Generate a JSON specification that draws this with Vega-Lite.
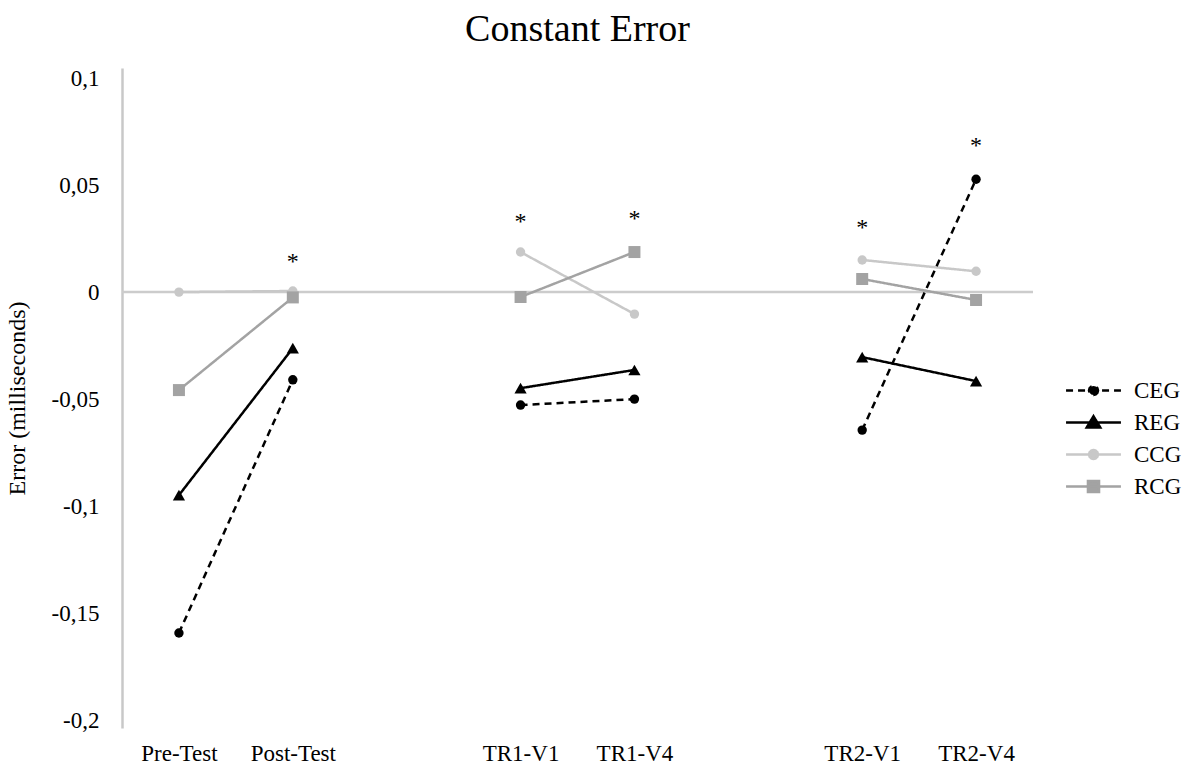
{
  "$schema": "https://vega.github.io/schema/vega-lite/v6.json",
  "width": 911,
  "height": 660,
  "autosize": {"type": "none"},
  "padding": {"left": 122, "top": 68, "right": 157, "bottom": 36},
  "background": "#ffffff",
  "title": {
    "text": "Constant Error",
    "font": "Liberation Serif",
    "fontSize": 38,
    "fontWeight": "normal",
    "color": "#000000",
    "anchor": "middle",
    "offset": 18
  },
  "config": {
    "view": {"stroke": null},
    "font": "Liberation Serif",
    "axis": {"labelFont": "Liberation Serif", "titleFont": "Liberation Serif", "labelColor": "#000000", "titleColor": "#000000"}
  },
  "datasets": {
    "series": [
      {"g": "CCG", "t": "Pre-Test", "v": 0.0, "s": "A"},
      {"g": "CCG", "t": "Post-Test", "v": 0.0005, "s": "A"},
      {"g": "CCG", "t": "TR1-V1", "v": 0.0187, "s": "B"},
      {"g": "CCG", "t": "TR1-V4", "v": -0.0103, "s": "B"},
      {"g": "CCG", "t": "TR2-V1", "v": 0.015, "s": "C"},
      {"g": "CCG", "t": "TR2-V4", "v": 0.0097, "s": "C"},
      {"g": "RCG", "t": "Pre-Test", "v": -0.0458, "s": "A"},
      {"g": "RCG", "t": "Post-Test", "v": -0.0025, "s": "A"},
      {"g": "RCG", "t": "TR1-V1", "v": -0.0023, "s": "B"},
      {"g": "RCG", "t": "TR1-V4", "v": 0.0187, "s": "B"},
      {"g": "RCG", "t": "TR2-V1", "v": 0.0061, "s": "C"},
      {"g": "RCG", "t": "TR2-V4", "v": -0.0037, "s": "C"},
      {"g": "REG", "t": "Pre-Test", "v": -0.0949, "s": "A"},
      {"g": "REG", "t": "Post-Test", "v": -0.0262, "s": "A"},
      {"g": "REG", "t": "TR1-V1", "v": -0.0449, "s": "B"},
      {"g": "REG", "t": "TR1-V4", "v": -0.0364, "s": "B"},
      {"g": "REG", "t": "TR2-V1", "v": -0.0304, "s": "C"},
      {"g": "REG", "t": "TR2-V4", "v": -0.0416, "s": "C"},
      {"g": "CEG", "t": "Pre-Test", "v": -0.1593, "s": "A"},
      {"g": "CEG", "t": "Post-Test", "v": -0.041, "s": "A"},
      {"g": "CEG", "t": "TR1-V1", "v": -0.0528, "s": "B"},
      {"g": "CEG", "t": "TR1-V4", "v": -0.05, "s": "B"},
      {"g": "CEG", "t": "TR2-V1", "v": -0.0645, "s": "C"},
      {"g": "CEG", "t": "TR2-V4", "v": 0.0527, "s": "C"}
    ],
    "stars": [
      {"t": "Post-Test", "v": 0.0154, "label": "*"},
      {"t": "TR1-V1", "v": 0.0341, "label": "*"},
      {"t": "TR1-V4", "v": 0.0355, "label": "*"},
      {"t": "TR2-V1", "v": 0.0313, "label": "*"},
      {"t": "TR2-V4", "v": 0.0696, "label": "*"}
    ]
  },
  "encoding": {
    "x": {
      "field": "t",
      "type": "nominal",
      "sort": null,
      "scale": {"type": "point", "domain": ["Pre-Test", "Post-Test", " ", "TR1-V1", "TR1-V4", "  ", "TR2-V1", "TR2-V4"], "padding": 0.5},
      "axis": {"title": null, "domain": false, "ticks": false, "grid": false, "labelAngle": 0, "labelFontSize": 23, "labelPadding": 14, "labelBaseline": "top"}
    },
    "y": {
      "field": "v",
      "type": "quantitative",
      "scale": {"domain": [-0.2037, 0.1047], "nice": false, "zero": false},
      "axis": {
        "title": "Error (milliseconds)",
        "titleFontSize": 24,
        "titleFontWeight": "normal",
        "titleX": -105,
        "titleBaseline": "middle",
        "values": [-0.2, -0.15, -0.1, -0.05, 0, 0.05, 0.1],
        "labelExpr": "replace(toString(datum.value), '.', ',')",
        "labelFontSize": 23,
        "labelPadding": 23,
        "ticks": false,
        "grid": false,
        "domain": true,
        "domainColor": "#c8c8c8",
        "domainWidth": 2.5
      }
    }
  },
  "layer": [
    {
      "data": {"values": [{"z": 0}]},
      "mark": {"type": "rule", "color": "#cccccc", "strokeWidth": 2.5},
      "encoding": {"x": null, "y": {"field": "z", "type": "quantitative"}}
    },
    {
      "data": {"name": "series"},
      "mark": {"type": "line", "strokeWidth": 2.5},
      "encoding": {
        "color": {"field": "g", "type": "nominal", "scale": {"domain": ["CEG", "REG", "CCG", "RCG"], "range": ["#000000", "#000000", "#c8c8c8", "#a3a3a3"]}},
        "strokeDash": {"field": "g", "type": "nominal", "scale": {"domain": ["CEG", "REG", "CCG", "RCG"], "range": [[7, 5], [1, 0], [1, 0], [1, 0]]}},
        "detail": {"field": "s"}
      }
    },
    {
      "data": {"name": "series"},
      "transform": [{"filter": "datum.g === 'CEG' || datum.g === 'CCG'"}],
      "mark": {"type": "point", "filled": true, "opacity": 1, "shape": "circle", "size": 88},
      "encoding": {"color": {"field": "g", "type": "nominal"}}
    },
    {
      "data": {"name": "series"},
      "transform": [{"filter": "datum.g === 'REG'"}],
      "mark": {"type": "point", "filled": true, "opacity": 1, "shape": "triangle-up", "size": 150},
      "encoding": {"color": {"field": "g", "type": "nominal"}}
    },
    {
      "data": {"name": "series"},
      "transform": [{"filter": "datum.g === 'RCG'"}],
      "mark": {"type": "point", "filled": true, "opacity": 1, "shape": "square", "size": 144},
      "encoding": {"color": {"field": "g", "type": "nominal"}}
    },
    {
      "data": {"name": "series"},
      "transform": [{"filter": "datum.g === 'none'"}],
      "mark": {"type": "point", "filled": true, "opacity": 1},
      "encoding": {
        "color": {
          "field": "g",
          "type": "nominal",
          "legend": {
            "title": null,
            "orient": "none",
            "legendX": 955,
            "legendY": 306,
            "padding": 0,
            "symbolSize": 900,
            "symbolStrokeWidth": 2.5,
            "symbolOpacity": 1,
            "rowPadding": 3,
            "labelOffset": 24,
            "labelFontSize": 23,
            "labelFont": "Liberation Serif",
            "labelColor": "#000000"
          }
        },
        "shape": {
          "field": "g",
          "type": "nominal",
          "scale": {
            "domain": ["CEG", "REG", "CCG", "RCG"],
            "range": [
              "M-1.83,0H1.83M0.3,0L0.26,0.15L0.15,0.26L0,0.3L-0.15,0.26L-0.26,0.15L-0.3,0L-0.26,-0.15L-0.15,-0.26L0,-0.3L0.15,-0.26L0.26,-0.15Z",
              "M-1.83,0H1.83M0,-0.42L0.45,0.33L-0.45,0.33Z",
              "M-1.83,0H1.83M0.3,0L0.26,0.15L0.15,0.26L0,0.3L-0.15,0.26L-0.26,0.15L-0.3,0L-0.26,-0.15L-0.15,-0.26L0,-0.3L0.15,-0.26L0.26,-0.15Z",
              "M-1.83,0H1.83M-0.37,-0.37H0.37V0.37H-0.37Z"
            ]
          }
        }
      }
    },
    {
      "data": {"name": "stars"},
      "mark": {"type": "text", "fontSize": 24, "font": "Liberation Serif", "color": "#000000", "baseline": "middle", "dy": 3},
      "encoding": {"text": {"field": "label"}}
    }
  ]
}
